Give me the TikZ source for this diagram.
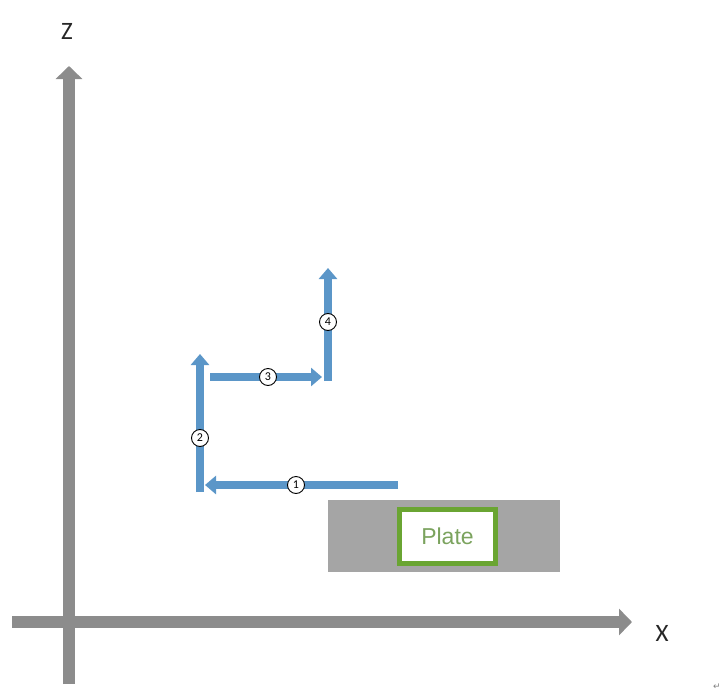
\documentclass[tikz,border=0pt]{standalone}
\usepackage{fontspec}
\setmainfont{Carlito}
\newfontfamily\symfont{DejaVu Sans}
\newfontfamily\platefont{Liberation Sans}
\usetikzlibrary{arrows.meta}
\definecolor{axisgray}{HTML}{8C8C8C}
\definecolor{plategray}{HTML}{A5A5A5}
\definecolor{pathblue}{HTML}{5B96C8}
\definecolor{plategreen}{HTML}{6AA532}
\definecolor{platetext}{HTML}{7BA35E}
\tikzset{
  axisline/.style={draw=axisgray, line width=12.5pt, -{Triangle[length=13pt,width=26pt]}},
  moveline/.style={draw=pathblue, line width=7.5pt, -{Triangle[length=11pt,width=18pt]}},
  stepnum/.style={circle, draw=black, fill=white, line width=0.9pt, inner sep=0pt, minimum size=17pt, font=\fontsize{12}{12}\selectfont},
  axislabel/.style={font=\fontsize{25}{25}\selectfont, text=black!85},
}
\begin{document}
\begin{tikzpicture}[x=1pt,y=-1pt]
\useasboundingbox (0,0) rectangle (725,693);
% axes
\coordinate (zb) at (69,684);
\coordinate (zt) at (69,66);
\coordinate (xb) at (12,622);
\coordinate (xt) at (632,622);
\draw[axisline] (xb) -- (xt);
\draw[axisline] (zb) -- (zt);
\node[axislabel] (zlab) at (67,31) {Z};
\node[axislabel] (xlab) at (662,633) {X};
% plate
\node[draw=none, fill=plategray, minimum width=232pt, minimum height=72pt, inner sep=0pt] (plate) at (444,536) {};
\node[draw=plategreen, fill=white, line width=4.5pt, minimum width=96pt, minimum height=54pt, inner sep=0pt, font=\platefont\fontsize{23}{23}\selectfont, text=platetext] (platebox) at (447.5,536.5) {Plate};
% path
\coordinate (a1s) at (398,485);
\coordinate (a1e) at (205,485);
\coordinate (a2s) at (200,492);
\coordinate (a2e) at (200,354);
\coordinate (a3s) at (210,377);
\coordinate (a3e) at (322,377);
\coordinate (a4s) at (328,381);
\coordinate (a4e) at (328,268);
\draw[moveline] (a1s) -- (a1e);
\draw[moveline] (a2s) -- (a2e);
\draw[moveline] (a3s) -- (a3e);
\draw[moveline] (a4s) -- (a4e);
\node[stepnum] (n1) at (296,485) {1};
\node[stepnum] (n2) at (200,438) {2};
\node[stepnum] (n3) at (268,377) {3};
\node[stepnum] (n4) at (328,322) {4};
% paragraph mark
\node[font=\symfont\fontsize{9}{9}\selectfont, text=black!50] (pmark) at (717,687) {↵};
\end{tikzpicture}
\end{document}
